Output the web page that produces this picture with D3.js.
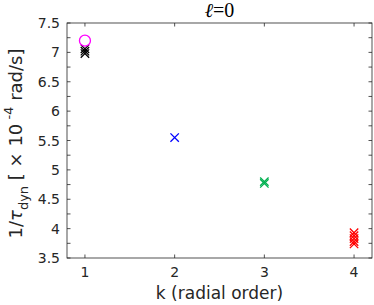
<!DOCTYPE html>
<html>
<head>
<meta charset="utf-8">
<script src="https://cdn.jsdelivr.net/npm/d3@7"></script>
<style>
body{margin:0;background:#fff;}
svg text{font-family:"DejaVu Sans",sans-serif;fill:#262626;}
</style>
</head>
<body>
<svg id="chart" width="374" height="305"></svg>
<script>
// k = radial order, values in units of 1e-4 rad/s
var circleK = [1]
var circleVals = [7.2]
var groups = [
	{k: 1, color: '#000000', vals: [7.06, 7.02, 6.98]},
	{k: 2, color: '#0000ff', vals: [5.55]},
	{k: 3, color: '#00b050', vals: [4.8, 4.77]},
	{k: 4, color: '#ff0000', vals: [3.93, 3.88, 3.83, 3.78, 3.74]}
]
var xTicks = [1, 2, 3, 4]
var yTicks = [3.5, 4, 4.5, 5, 5.5, 6, 6.5, 7, 7.5]
var yMinor = d3.range(3.5, 7.51, 0.25)

function draw(){
	var svg = d3.select('svg#chart')
	var mLeft = 67, mRight = 372, mTop = 23, mBottom = 258

	var x = d3.scaleLinear().domain([0.8, 4.2]).range([mLeft, mRight])
	var y = d3.scaleLinear().domain([3.5, 7.5]).range([mBottom, mTop])

	var axisColor = '#262626'
	var g = svg.append('g')

	// box
	g.append('rect')
		.attr('x', mLeft).attr('y', mTop)
		.attr('width', mRight - mLeft).attr('height', mBottom - mTop)
		.style('fill', 'none').style('stroke', axisColor).style('stroke-width', 0.8)

	// ticks, inside, on all four sides
	var tl = 3.5
	g.selectAll('line.xt').data(xTicks).enter().append('line')
		.attr('x1', function(d){return x(d)}).attr('x2', function(d){return x(d)})
		.attr('y1', mBottom).attr('y2', mBottom - tl)
		.style('stroke', axisColor).style('stroke-width', 0.8)
	g.selectAll('line.xtt').data(xTicks).enter().append('line')
		.attr('x1', function(d){return x(d)}).attr('x2', function(d){return x(d)})
		.attr('y1', mTop).attr('y2', mTop + tl)
		.style('stroke', axisColor).style('stroke-width', 0.8)
	g.selectAll('line.yt').data(yMinor).enter().append('line')
		.attr('y1', function(d){return y(d)}).attr('y2', function(d){return y(d)})
		.attr('x1', mLeft).attr('x2', mLeft + tl)
		.style('stroke', axisColor).style('stroke-width', 0.8)
	g.selectAll('line.ytr').data(yMinor).enter().append('line')
		.attr('y1', function(d){return y(d)}).attr('y2', function(d){return y(d)})
		.attr('x1', mRight).attr('x2', mRight - tl)
		.style('stroke', axisColor).style('stroke-width', 0.8)

	// tick labels
	g.selectAll('text.xl').data(xTicks).enter().append('text')
		.attr('x', function(d){return x(d)}).attr('y', 277)
		.attr('text-anchor', 'middle').style('font-size', '14px')
		.text(function(d){return d})
	g.selectAll('text.yl').data(yTicks).enter().append('text')
		.attr('x', mLeft - 7).attr('y', function(d){return y(d) + 5})
		.attr('text-anchor', 'end').style('font-size', '14px')
		.text(function(d){return d})

	// title
	svg.append('text')
		.attr('x', (mLeft + mRight) / 2).attr('y', 17)
		.attr('text-anchor', 'middle')
		.style('font-family', '"Liberation Serif","DejaVu Serif",serif')
		.style('font-size', '20px').style('fill', '#000')
		.html('<tspan font-style="italic">ℓ</tspan>=0')

	// x label
	svg.append('text')
		.attr('x', (mLeft + mRight) / 2).attr('y', 299)
		.attr('text-anchor', 'middle').style('font-size', '17px')
		.text('k (radial order)')

	// y label
	var yl = svg.append('text')
		.attr('transform', 'translate(22,' + ((mTop + mBottom) / 2 + 3) + ') rotate(-90)')
		.attr('text-anchor', 'middle').style('font-size', '18px')
		.attr('xml:space', 'preserve')
	yl.append('tspan').text('1/')
	yl.append('tspan').text('τ').style('font-style', 'italic')
	yl.append('tspan').text('dyn').attr('dy', 6).style('font-size', '13px')
	yl.append('tspan').text(' [ × 10').attr('dy', -6)
	yl.append('tspan').text(' -4').attr('dy', -9).style('font-size', '13px')
	yl.append('tspan').text(' rad/s]').attr('dy', 9)

	// cross markers
	var pts = []
	groups.forEach(function(gr){
		gr.vals.forEach(function(v){pts.push({k: gr.k, v: v, color: gr.color})})
	})
	var s = 4.2
	g.selectAll('path.cross').data(pts).enter().append('path')
		.attr('class', 'cross')
		.attr('d', function(d){
			var cx = x(d.k), cy = y(d.v)
			return 'M' + (cx - s) + ',' + (cy - s) + 'L' + (cx + s) + ',' + (cy + s) +
				'M' + (cx - s) + ',' + (cy + s) + 'L' + (cx + s) + ',' + (cy - s)
		})
		.style('stroke', function(d){return d.color})
		.style('stroke-width', 1.3)
		.style('fill', 'none')

	// circle marker
	g.selectAll('circle.c').data(circleK).enter().append('circle')
		.attr('cx', function(d){return x(d)})
		.attr('cy', function(d, i){return y(circleVals[i])})
		.attr('r', 5.5)
		.style('fill', 'none').style('stroke', '#ff00ff').style('stroke-width', 1.3)
}
draw()
</script>
</body>
</html>
